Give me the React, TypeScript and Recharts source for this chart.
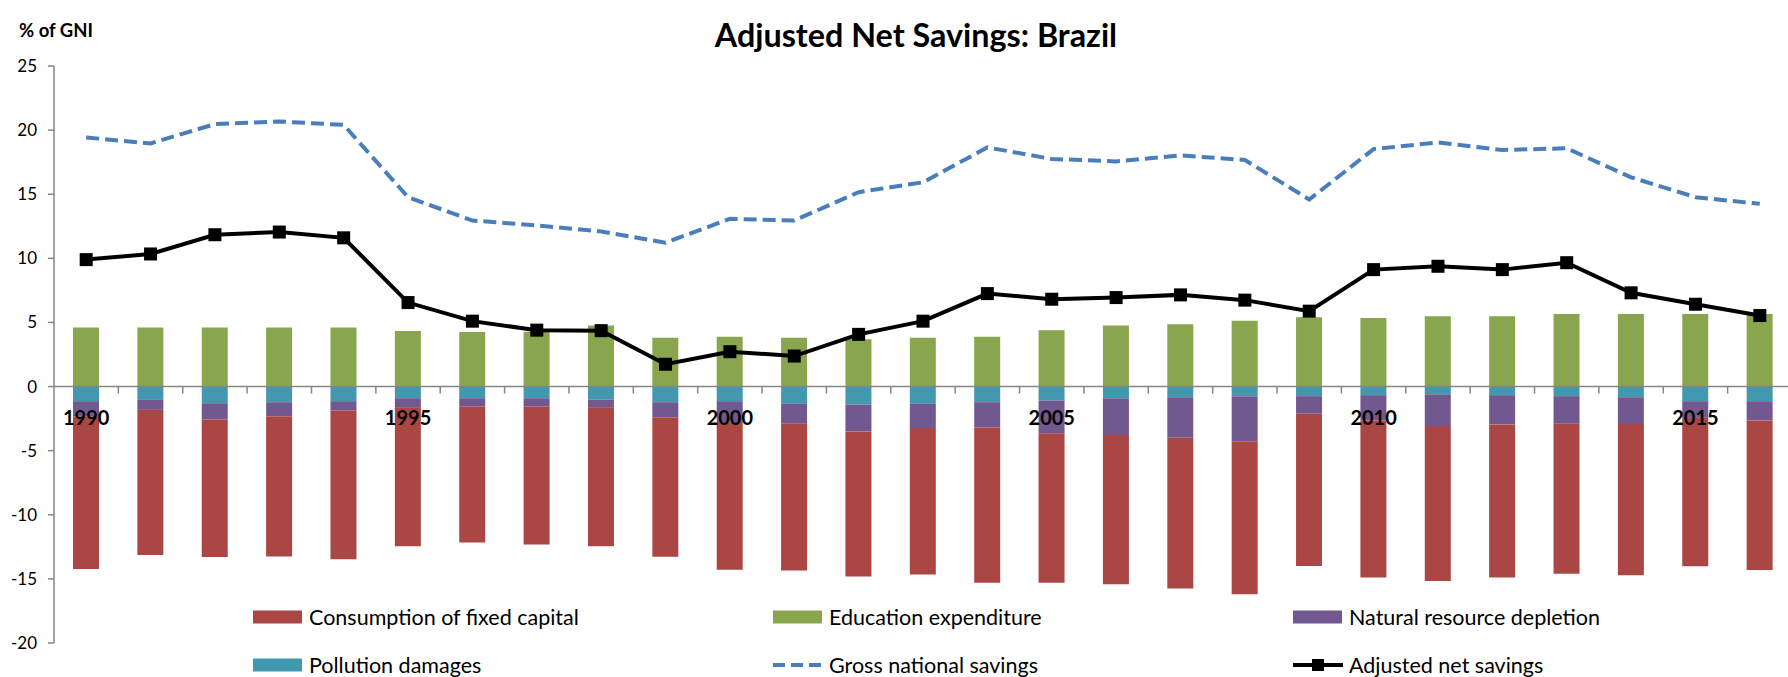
import { ComposedChart, Bar, Line, XAxis, YAxis, ReferenceLine, Legend } from "recharts";

const years = [
  "1990", "1991", "1992", "1993", "1994", "1995", "1996", "1997", "1998", "1999",
  "2000", "2001", "2002", "2003", "2004", "2005", "2006", "2007", "2008", "2009",
  "2010", "2011", "2012", "2013", "2014", "2015", "2016",
];
const labelledYears = ["1990", "1995", "2000", "2005", "2010", "2015"];

// % of GNI
const consumptionFixedCapital = [
  -11.88, -11.32, -10.72, -10.95, -11.6, -10.8, -10.6, -10.76, -10.8, -10.88,
  -11.45, -11.45, -11.32, -11.42, -12.12, -11.66, -11.63, -11.76, -11.92, -11.87,
  -12.26, -12.08, -11.95, -11.69, -11.79, -11.58, -11.66,
];
const educationExpenditure = [
  4.61, 4.61, 4.61, 4.61, 4.61, 4.33, 4.25, 4.27, 4.76, 3.81,
  3.89, 3.81, 3.68, 3.81, 3.89, 4.4, 4.77, 4.86, 5.13, 5.41,
  5.34, 5.49, 5.49, 5.65, 5.65, 5.65, 5.65,
];
const naturalResourceDepletion = [
  -1.2, -0.78, -1.27, -1.09, -0.73, -0.75, -0.65, -0.65, -0.65, -1.17,
  -1.7, -1.55, -2.1, -1.89, -1.97, -2.56, -2.87, -3.16, -3.52, -1.37,
  -1.97, -2.48, -2.28, -2.15, -2.1, -1.3, -1.5,
];
const pollutionDamages = [
  -1.14, -1.04, -1.3, -1.22, -1.14, -0.91, -0.91, -0.91, -1.01, -1.22,
  -1.14, -1.35, -1.4, -1.35, -1.22, -1.09, -0.91, -0.83, -0.75, -0.75,
  -0.67, -0.6, -0.67, -0.75, -0.83, -1.14, -1.14,
];
const grossNationalSavings = [
  19.43, 18.96, 20.47, 20.67, 20.41, 14.77, 12.95, 12.56, 12.1, 11.22,
  13.08, 12.95, 15.16, 15.93, 18.65, 17.75, 17.56, 18.03, 17.67, 14.59,
  18.52, 19.04, 18.45, 18.58, 16.32, 14.77, 14.25,
];
const adjustedNetSavings = [
  9.9, 10.34, 11.84, 12.05, 11.6, 6.55, 5.1, 4.4, 4.36, 1.74,
  2.72, 2.38, 4.07, 5.1, 7.25, 6.81, 6.94, 7.15, 6.74, 5.88,
  9.12, 9.38, 9.12, 9.66, 7.31, 6.42, 5.54,
];
const yTicks = [25, 20, 15, 10, 5, 0, -5, -10, -15, -20];

const RED = "#AA4744";
const GREEN = "#89A54E";
const PURPLE = "#71588F";
const TEAL = "#4198AF";
const BLUE = "#4A7EBB";
const GREY = "#868686";
const FONT = "Lato, 'Open Sans', sans-serif";

const data = years.map((year, i) => ({
  year,
  pollution: pollutionDamages[i],
  depletion: naturalResourceDepletion[i],
  capital: consumptionFixedCapital[i],
  education: educationExpenditure[i],
  gross: grossNationalSavings[i],
  adjusted: adjustedNetSavings[i],
}));

const CHART_W = 1800;
const CHART_H = 677;
const PLOT_LEFT = 54;
const PLOT_TOP = 66;
const PLOT_BOTTOM = 643;
const PLOT_RIGHT = 1792;
const X_AXIS_H = 20;
const CAT_W = (PLOT_RIGHT - PLOT_LEFT) / years.length;
const ZERO_Y = PLOT_TOP + ((PLOT_BOTTOM - PLOT_TOP) * 25) / 45;

// year labels + tick marks sit on the zero line, not the bottom of the plot
const YearTick = (props: any) => {
  const { x, payload } = props;
  const show = labelledYears.includes(payload.value);
  return (
    <g>
      <line x1={x + CAT_W / 2} x2={x + CAT_W / 2} y1={ZERO_Y} y2={ZERO_Y + 7} stroke={GREY} strokeWidth={1.5} />
      {show && (
        <text x={x} y={ZERO_Y + 38.5} textAnchor="middle" fontFamily={FONT} fontWeight="bold" fontSize={20} fill="#000">
          {payload.value}
        </text>
      )}
    </g>
  );
};

const SquareDot = (props: any) => {
  const { cx, cy } = props;
  if (cx == null || cy == null) return null;
  return <rect x={cx - 6.5} y={cy - 6.5} width={13} height={13} fill="#000" />;
};

const legendItems = [
  { label: "Consumption of fixed capital", kind: "bar", color: RED },
  { label: "Education expenditure", kind: "bar", color: GREEN },
  { label: "Natural resource depletion", kind: "bar", color: PURPLE },
  { label: "Pollution damages", kind: "bar", color: TEAL },
  { label: "Gross national savings", kind: "dash", color: BLUE },
  { label: "Adjusted net savings", kind: "marker", color: "#000" },
];
const legendCols = [253, 773, 1293];
const legendRows = [617, 665];

const LegendContent = () => (
  <div style={{ position: "relative", width: 1788, height: 77 }}>
    {legendItems.map((item, i) => {
      const left = legendCols[i % 3];
      const cy = legendRows[Math.floor(i / 3)] - 600;
      return (
        <div
          key={item.label}
          style={{
            position: "absolute",
            left,
            top: cy - 15,
            height: 30,
            display: "flex",
            alignItems: "center",
            fontFamily: FONT,
            fontSize: 21.5,
            color: "#000",
            whiteSpace: "nowrap",
          }}
        >
          <svg width={50} height={16} style={{ marginRight: 6 }}>
            {item.kind === "bar" && <rect x={0} y={1.5} width={49} height={13} fill={item.color} />}
            {item.kind === "dash" && (
              <line x1={0} x2={50} y1={8} y2={8} stroke={item.color} strokeWidth={4} strokeDasharray="12 6" />
            )}
            {item.kind === "marker" && (
              <g>
                <line x1={0} x2={50} y1={8} y2={8} stroke="#000" strokeWidth={4} />
                <rect x={19} y={2} width={12} height={12} fill="#000" />
              </g>
            )}
          </svg>
          <span>{item.label}</span>
        </div>
      );
    })}
  </div>
);

const App = () => {
  return (
    <div style={{ position: "absolute", left: 0, top: 0, width: 1788, height: 677, overflow: "hidden", background: "#fff" }}>
      <ComposedChart
        width={CHART_W}
        height={CHART_H}
        data={data}
        stackOffset="sign"
        barSize={26}
        margin={{ top: PLOT_TOP, right: CHART_W - PLOT_RIGHT, left: 0, bottom: CHART_H - PLOT_BOTTOM - X_AXIS_H }}
      >
        <YAxis
          width={PLOT_LEFT}
          domain={[-20, 25]}
          ticks={yTicks}
          interval={0}
          tickSize={6}
          tickMargin={11}
          stroke={GREY}
          axisLine={{ stroke: GREY, strokeWidth: 1.5 }}
          tickLine={{ stroke: GREY, strokeWidth: 1.5 }}
          tick={{ fill: "#000", fontFamily: FONT, fontSize: 17 }}
        />
        <Bar dataKey="pollution" name="Pollution damages" stackId="s" fill={TEAL} isAnimationActive={false} />
        <Bar dataKey="depletion" name="Natural resource depletion" stackId="s" fill={PURPLE} isAnimationActive={false} />
        <Bar dataKey="capital" name="Consumption of fixed capital" stackId="s" fill={RED} isAnimationActive={false} />
        <Bar dataKey="education" name="Education expenditure" stackId="s" fill={GREEN} isAnimationActive={false} />
        <ReferenceLine y={0} stroke={GREY} strokeWidth={1.5} />
        <Line
          dataKey="gross"
          name="Gross national savings"
          type="linear"
          stroke={BLUE}
          strokeWidth={4}
          strokeDasharray="13 6"
          dot={false}
          isAnimationActive={false}
        />
        <Line
          dataKey="adjusted"
          name="Adjusted net savings"
          type="linear"
          stroke="#000"
          strokeWidth={4}
          dot={<SquareDot />}
          isAnimationActive={false}
        />
        <XAxis
          dataKey="year"
          height={X_AXIS_H}
          interval={0}
          axisLine={false}
          tickLine={false}
          tick={<YearTick />}
        />
        <Legend
          layout="horizontal"
          verticalAlign="middle"
          wrapperStyle={{ top: 600, left: 0, width: 1788, height: 77 }}
          content={<LegendContent />}
        />
      </ComposedChart>
      <svg width={1788} height={677} style={{ position: "absolute", left: 0, top: 0, pointerEvents: "none" }}>
        <text x={916} y={46.7} textAnchor="middle" fontFamily={FONT} fontWeight="bold" fontSize={32.3} fill="#000">
          Adjusted Net Savings: Brazil
        </text>
        <text x={19} y={37.3} fontFamily={FONT} fontWeight="bold" fontSize={18.5} fill="#000">
          % of GNI
        </text>
      </svg>
    </div>
  );
};

export default App;
